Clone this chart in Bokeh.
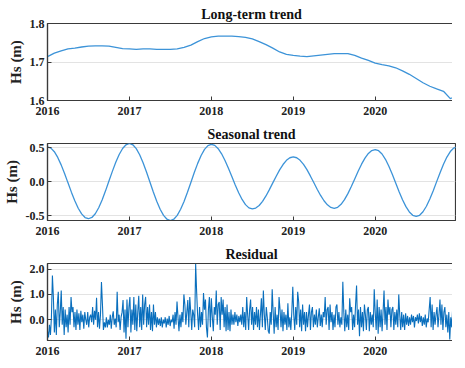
import numpy as np
from bokeh.plotting import figure
from bokeh.layouts import column
from bokeh.models import Range1d, FixedTicker, NumeralTickFormatter
from bokeh.embed import file_html
from bokeh.resources import INLINE

# ---------------- data ----------------
year_ticks = [2016, 2017, 2018, 2019, 2020]

titles = ["Long-term trend", "Seasonal trend", "Residual"]
y_label = "Hs (m)"

# monthly long-term trend (m), Jan 2016 .. Jan 2021
trend_hs = [
    1.714, 1.723, 1.729, 1.734, 1.736, 1.739, 1.741, 1.742, 1.742, 1.741, 1.738, 1.735,
    1.734, 1.733, 1.734, 1.734, 1.733, 1.733, 1.733, 1.734, 1.738, 1.744, 1.753, 1.761,
    1.765, 1.767, 1.767, 1.767, 1.766, 1.764, 1.760, 1.753, 1.745, 1.736, 1.726, 1.720,
    1.717, 1.715, 1.714, 1.716, 1.718, 1.720, 1.722, 1.722, 1.722, 1.717, 1.710, 1.704,
    1.697, 1.693, 1.690, 1.685, 1.677, 1.668, 1.657, 1.646, 1.637, 1.630, 1.624, 1.605,
    1.612,
]

# half-monthly seasonal component (m)
seasonal_hs = [
    0.515, 0.497, 0.444, 0.360, 0.250, 0.123, -0.015, -0.152, -0.279, -0.389, -0.473, -0.526, -0.544,
    -0.525, -0.470, -0.382, -0.267, -0.133, 0.011, 0.154, 0.288, 0.403, 0.491, 0.546, 0.565,
    0.546, 0.489, 0.399, 0.281, 0.144, -0.003, -0.150, -0.286, -0.404, -0.494, -0.551, -0.570,
    -0.551, -0.495, -0.405, -0.289, -0.154, -0.009, 0.137, 0.272, 0.388, 0.478, 0.534, 0.553,
    0.537, 0.489, 0.413, 0.315, 0.200, 0.077, -0.047, -0.162, -0.260, -0.336, -0.384, -0.400,
    -0.387, -0.349, -0.287, -0.208, -0.115, -0.016, 0.083, 0.176, 0.255, 0.317, 0.355, 0.368,
    0.355, 0.317, 0.257, 0.179, 0.087, -0.011, -0.109, -0.201, -0.279, -0.339, -0.377, -0.390,
    -0.375, -0.332, -0.263, -0.174, -0.069, 0.043, 0.155, 0.260, 0.349, 0.418, 0.461, 0.476,
    0.459, 0.410, 0.332, 0.230, 0.111, -0.017, -0.145, -0.264, -0.366, -0.444, -0.493, -0.510,
    -0.493, -0.441, -0.360, -0.254, -0.130, 0.003, 0.135, 0.259, 0.365, 0.446, 0.498, 0.515,
]

# residual (m), evenly spaced through 2016-2020
residual_hs = [
    -0.45, -0.7, -0.2, -0.6, 0.1, 1.75, 0.9, -0.5, 0.4, -0.6,
    0.6, 1.1, -0.3, 0.3, 1.15, -0.2, 0.5, -0.6, 0.4, -0.3,
    0.2, -0.5, 0.5, -0.2, 0.9, 0.3, 0.5, -0.3, 0.3, -0.4,
    0.4, -0.2, 0.25, -0.4, 0.35, -0.1, 0.2, -0.35, 0.3, 0.0,
    -0.2, 0.3, -0.3, 0.1, 0.2, -0.1, 0.5, -0.2, 0.35, 0.0,
    0.87, -0.3, 0.3, -0.35, 0.2, 1.49, 0.6, -0.4, -0.1, -0.3,
    0.1, -0.3, 0.0, -0.2, 0.2, -0.35, 0.1, 0.33, -0.2, 0.05,
    -0.3, 1.1, -0.1, 0.2, -0.4, 0.1, 0.3, 0.78, -0.5, 0.4,
    -0.75, 0.8, -0.3, 0.5, 0.9, -0.5, 0.4, -0.2, 0.9, -0.4,
    0.6, -0.45, 0.3, 0.95, -0.3, 0.5, -0.4, 1.0, -0.2, 0.6,
    0.9, -0.3, 0.5, -0.2, 0.6, -0.4, 0.3, -0.45, 0.6, -0.2,
    0.3, -0.3, 0.1, -0.2, 0.05, -0.25, 0.1, -0.3, 0.0, -0.15,
    0.1, -0.3, 0.05, -0.2, 0.15, -0.25, 0.0, -0.1, 0.2, -0.35,
    0.3, -0.2, 0.72, 0.1, -0.45, 0.2, -0.3, 0.3, -0.1, 1.0,
    0.6, -0.2, 0.3, 0.78, -0.3, 0.9, 0.3, -0.4, 0.4, 0.2,
    -0.3, 2.2, 1.1, 0.2, -0.4, 0.5, -0.3, 0.3, -0.2, 1.05,
    0.4, 0.8, -0.3, -0.7, 0.4, 0.9, -0.3, 0.85, 0.1, -0.45,
    0.5, 0.2, 1.15, -0.2, 0.6, 0.7, -0.4, 0.9, 0.2, 0.8,
    -0.3, 0.5, -0.45, 0.6, -0.4, 0.3, -0.45, 0.4, -0.2, 0.2,
    -0.2, 0.3, -0.1, 0.2, -0.25, 0.15, -0.1, 0.2, -0.2, 0.5,
    -0.3, 0.3, -0.4, 0.9, 0.2, -0.4, 0.4, 0.8, -0.2, 0.5,
    -0.4, 0.3, -0.2, 0.5, -0.3, 0.4, -0.4, 0.2, 0.85, -0.3,
    1.15, 0.2, -0.4, 0.5, 0.1, -0.45, -0.55, 0.3, -0.2, 1.2,
    0.3, -0.55, 0.5, -0.3, 0.2, -0.4, 0.9, 0.4, -0.3, 0.4,
    -0.45, 0.3, -0.2, 0.2, -0.4, 0.65, -0.3, 0.1, -0.4, 0.3,
    1.3, 0.2, -0.4, 0.5, -0.2, 1.1, 0.7, -0.3, 0.4, -0.45,
    0.6, -0.2, 0.3, -0.45, 0.3, -0.3, 0.2, 0.6, -0.4, 0.3,
    0.5, -0.3, 0.2, -0.2, 0.4, -0.3, 0.1, 0.45, -0.25, 0.2,
    -0.3, 0.3, 0.1, 0.9, -0.2, 0.4, 0.5, -0.4, 0.6, -0.1,
    0.3, -0.4, 0.2, -0.3, 0.5, 0.6, -0.2, 0.3, -0.3, 0.1,
    -0.2, 1.5, 0.3, -0.45, 0.4, -0.3, 0.2, -0.4, 0.85, 0.3,
    0.5, -0.4, 0.2, -0.3, 0.6, 1.35, -0.2, 0.4, -0.65, 0.5,
    -0.3, 0.3, -0.45, 0.6, 0.2, -0.4, 0.4, 0.5, -0.45, 0.3,
    -0.2, 0.2, -0.3, 1.2, 0.3, -0.4, 0.8, -0.55, 0.5, -0.3,
    0.4, -0.45, 0.3, 1.15, -0.2, 0.5, -0.4, 0.8, 0.2, 0.5,
    -0.3, 0.4, 0.5, -0.4, 0.3, -0.2, 0.4, -0.3, 1.0, 0.2,
    -0.4, 0.3, -0.3, 0.2, -0.4, 0.25, -0.2, 0.15, -0.25, 0.1,
    -0.2, 0.2, -0.1, 0.15, -0.3, 0.1, -0.05, 0.2, -0.15, 0.25,
    -0.1, 0.15, -0.25, 0.1, -0.2, 0.2, -0.3, 0.05, -0.1, 0.4,
    0.9, -0.3, 0.6, -0.4, 0.3, -0.2, 0.2, 0.5, -0.3, 0.2,
    0.8, -0.2, 0.6, -0.4, 0.3, 0.5, -0.3, 0.2, -0.5, 0.3,
    -0.78, 0.1, -0.3, 0.5, 1.1, 2.0,
]

trend_ticks = [1.6, 1.7, 1.8]
seasonal_ticks = [-0.5, 0.0, 0.5]
residual_ticks = [0.0, 1.0, 2.0]

# x positions (decimal years)
trend_x = 2016 + np.arange(len(trend_hs)) / 12.0
seasonal_x = 2016 + np.arange(len(seasonal_hs)) / 24.0
residual_x = np.linspace(2016.0, 2020.97, len(residual_hs))

# ---------------- styling ----------------
FONT = "Liberation Serif"
FRAME = "#3a3a3a"
LINE_LIGHT = "#3c93d8"
LINE_DARK = "#0a6fbd"


def style_axis(ax):
    ax.axis_line_color = FRAME
    ax.axis_line_width = 1.2
    ax.major_tick_in = 4
    ax.major_tick_out = 0
    ax.major_tick_line_color = FRAME
    ax.minor_tick_line_color = None
    ax.major_label_text_font = FONT
    ax.major_label_text_font_size = "12px"
    ax.major_label_text_font_style = "bold"
    ax.major_label_text_color = "#222222"


def make_panel(title, x, y, y_range, y_ticks, color, lw):
    p = figure(
        width=449, height=120,
        frame_width=408, frame_height=77,
        min_border_left=40, min_border_right=1,
        min_border_top=23, min_border_bottom=20,
        x_range=Range1d(2016.0, 2020.98),
        y_range=Range1d(*y_range),
        output_backend="svg", toolbar_location=None,
        title=title,
    )
    p.title.text_font = FONT
    p.title.text_font_size = "14px"
    p.title.text_font_style = "bold"
    p.title.align = "center"
    p.title.text_color = "#111111"
    p.title.standoff = 4

    p.line(x, y, line_color=color, line_width=lw)

    p.outline_line_color = FRAME
    p.outline_line_width = 1.2

    p.xgrid.visible = False
    p.ygrid.grid_line_color = "#e3e3e3"
    p.ygrid.grid_line_width = 1
    p.ygrid.ticker = FixedTicker(ticks=y_ticks)

    xa = p.xaxis[0]
    xa.ticker = FixedTicker(ticks=year_ticks)
    xa.formatter = NumeralTickFormatter(format="0")
    ya = p.yaxis[0]
    ya.ticker = FixedTicker(ticks=y_ticks)
    ya.formatter = NumeralTickFormatter(format="0.0")
    ya.axis_label = y_label
    ya.axis_label_text_font = FONT
    ya.axis_label_text_font_size = "15px"
    ya.axis_label_text_font_style = "bold"
    ya.axis_label_text_color = "#222222"
    ya.axis_label_standoff = 3
    style_axis(xa)
    style_axis(ya)
    xa.major_label_standoff = 6
    ya.major_label_standoff = 3
    return p


p1 = make_panel(titles[0], trend_x, trend_hs, (1.6, 1.8), trend_ticks, LINE_LIGHT, 1.3)
p2 = make_panel(titles[1], seasonal_x, seasonal_hs, (-0.57, 0.565), seasonal_ticks, LINE_LIGHT, 1.3)
p3 = make_panel(titles[2], residual_x, residual_hs, (-0.82, 2.22), residual_ticks, LINE_DARK, 1.1)

layout = column(p1, p2, p3, spacing=0)

open("out.html", "w").write(file_html(layout, INLINE))
